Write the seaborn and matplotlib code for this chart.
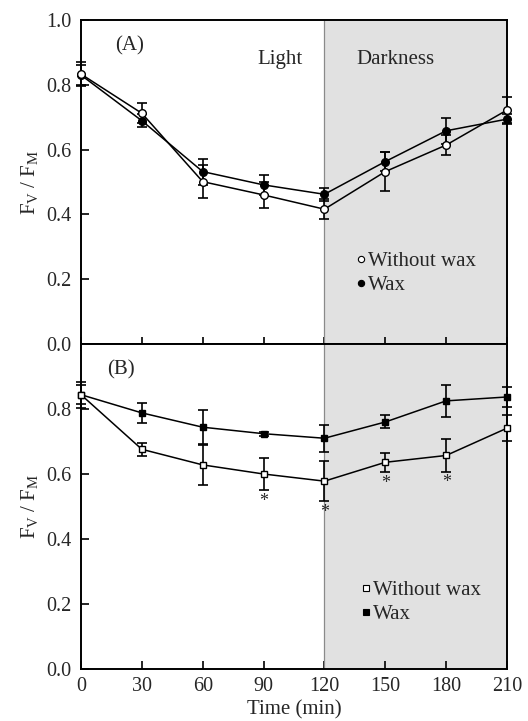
import numpy as np
import pandas as pd
import matplotlib
matplotlib.use("Agg")
import matplotlib.pyplot as plt
import seaborn as sns

# Zeitpunkte (min)
time_min = [0, 30, 60, 90, 120, 150, 180, 210]

# (A) Kreise
a_without = [0.833, 0.712, 0.501, 0.460, 0.416, 0.532, 0.614, 0.722]
a_without_err = [0.038, 0.031, 0.050, 0.040, 0.030, 0.060, 0.030, 0.040]
a_wax = [0.830, 0.689, 0.532, 0.491, 0.462, 0.563, 0.658, 0.694]
a_wax_err = [0.030, 0.020, 0.040, 0.030, 0.020, 0.030, 0.040, 0.015]

# (B) Quadrate
b_without = [0.844, 0.676, 0.628, 0.600, 0.578, 0.636, 0.657, 0.741]
b_without_err = [0.040, 0.020, 0.062, 0.050, 0.061, 0.030, 0.050, 0.040]
b_wax = [0.844, 0.788, 0.744, 0.724, 0.710, 0.760, 0.825, 0.837]
b_wax_err = [0.030, 0.030, 0.052, 0.006, 0.041, 0.020, 0.050, 0.031]

# signifikante Zeitpunkte in (B)
signif_times = [90, 120, 150, 180]

dark_start, dark_end = 120, 210

sns.set_style("ticks")
plt.rcParams["font.family"] = ["Liberation Serif", "DejaVu Serif"]
plt.rcParams["mathtext.fontset"] = "custom"
plt.rcParams["mathtext.rm"] = "Liberation Serif"
plt.rcParams["mathtext.it"] = "Liberation Serif:italic"

fig = plt.figure(figsize=(5.28, 7.21), dpi=100)
ax_a = fig.add_axes([0.1534, 0.5229, 0.8068, 0.4494])
ax_b = fig.add_axes([0.1534, 0.0721, 0.8068, 0.4508])


def panel(ax, groups, marker, ms):
    ax.axvspan(dark_start, dark_end, color="#e1e1e1", zorder=0, lw=0)
    ax.axvline(dark_start, color="#8a8a8a", lw=0.9, zorder=1)
    for vals, errs, face in groups:
        df = pd.DataFrame({"t": time_min, "y": vals, "err": errs})
        ax.errorbar(df.t, df.y, yerr=df.err, fmt="none", ecolor="black",
                    elinewidth=1.2, capsize=3.5, capthick=1.2, zorder=3,
                    clip_on=False)
        sns.lineplot(data=df, x="t", y="y", color="black", lw=1.1,
                     marker=marker, ms=ms, mfc=face, mec="black", mew=1.0,
                     ax=ax, zorder=4, clip_on=False)
    ax.set_xlim(0, 210)
    ax.set_ylim(0, 1.0)
    ax.set_xticks(time_min)
    ax.set_yticks([0, 0.2, 0.4, 0.6, 0.8, 1.0])
    ax.set_ylabel(r"$\mathregular{F_V\ /\ F_M}$", fontsize=15, labelpad=4)
    for s in ax.spines.values():
        s.set_visible(True)
        s.set_linewidth(1.4)
        s.set_color("black")
    ax.tick_params(labelsize=14.5, width=1.2, length=6, direction="in",
                   color="black", pad=7)
    h_open = plt.Line2D([], [], ls="none", marker=marker, ms=4.5,
                        mfc="white", mec="black", mew=0.8)
    h_fill = plt.Line2D([], [], ls="none", marker=marker, ms=4.5,
                        mfc="black", mec="black", mew=0.8)
    return h_open, h_fill


h1, h2 = panel(ax_a, [(a_wax, a_wax_err, "black"),
                      (a_without, a_without_err, "white")], "o", 5.5)
ax_a.text(17, 0.92, "(A)", fontsize=15, ha="left", va="center")
ax_a.text(98, 0.877, "Light", fontsize=15, ha="center", va="center")
ax_a.text(155, 0.877, "Darkness", fontsize=15, ha="center", va="center")
ax_a.tick_params(axis="x", direction="inout", length=10, labelbottom=False)
ax_a.set_xlabel("")
ax_a.legend([h1, h2], ["Without wax", "Wax"], frameon=False, fontsize=15,
            handlelength=0.5, handletextpad=0.1, labelspacing=0.2,
            loc="upper left", bbox_to_anchor=(0.625, 0.31), borderaxespad=0)

h3, h4 = panel(ax_b, [(b_wax, b_wax_err, "black"),
                      (b_without, b_without_err, "white")], "s", 5)
ax_b.text(13, 0.921, "(B)", fontsize=15, ha="left", va="center")
ax_b.set_yticks([0, 0.2, 0.4, 0.6, 0.8])
ax_b.tick_params(axis="x", pad=6)
ax_b.set_xlabel("Time (min)", fontsize=15, labelpad=3)
ax_b.legend([h3, h4], ["Without wax", "Wax"], frameon=False, fontsize=15,
            handlelength=0.5, handletextpad=0.1, labelspacing=0.2,
            loc="upper left", bbox_to_anchor=(0.637, 0.297), borderaxespad=0)

for t in signif_times:
    i = time_min.index(t)
    ax_b.text(t, b_without[i] - b_without_err[i] - 0.008, "*", fontsize=13,
              ha="center", va="top")

fig.savefig("out.png", dpi=100)
